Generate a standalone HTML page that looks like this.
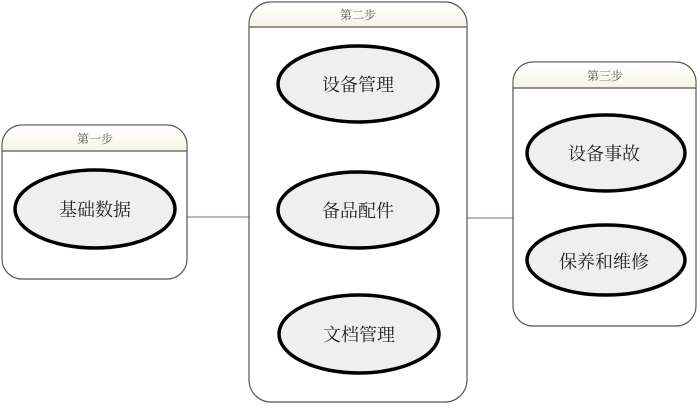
<!DOCTYPE html>
<html><head><meta charset="utf-8"><style>
body{margin:0;background:#fff;}
svg text{font-family:"Liberation Serif","Noto Serif CJK SC",serif;}
</style></head><body>
<svg width="700" height="405" viewBox="0 0 700 405" xmlns="http://www.w3.org/2000/svg">
<defs>
<linearGradient id="h" x1="0" y1="0" x2="0" y2="1"><stop offset="0" stop-color="#fff"/><stop offset="1" stop-color="#f6f4e6"/></linearGradient>
</defs>
<g fill="none" stroke="#8a8aa0" stroke-width="1.2">
<line x1="187" y1="217" x2="249" y2="217"/>
<line x1="467" y1="218" x2="513" y2="218"/>
</g>
<g stroke="#555" stroke-width="1.2">
<rect x="2" y="125" width="185" height="154" rx="20" fill="#fff"/>
<path d="M2.6 151 V145 A20 20 0 0 1 22 125.6 H167 A20 20 0 0 1 186.4 145 V151 Z" fill="url(#h)" stroke="none"/>
<line x1="2" y1="151" x2="187" y2="151"/>
<rect x="249" y="2" width="218" height="400" rx="22" fill="#fff"/>
<path d="M249.6 27 V24 A22 22 0 0 1 271 2.6 H445 A22 22 0 0 1 466.4 24 V27 Z" fill="url(#h)" stroke="none"/>
<line x1="249" y1="27" x2="467" y2="27"/>
<rect x="513" y="62" width="183" height="264" rx="20" fill="#fff"/>
<path d="M513.6 88 V82 A20 20 0 0 1 533 62.6 H676 A20 20 0 0 1 695.4 82 V88 Z" fill="url(#h)" stroke="none"/>
<line x1="513" y1="88" x2="696" y2="88"/>
</g>
<g fill="#efefef" stroke="#000" stroke-width="3.5">
<ellipse cx="95" cy="209" rx="80" ry="39"/>
<ellipse cx="358" cy="84" rx="80" ry="38"/>
<ellipse cx="358" cy="210" rx="80" ry="38"/>
<ellipse cx="359" cy="334" rx="80" ry="39"/>
<ellipse cx="606" cy="153" rx="79" ry="38"/>
<ellipse cx="606" cy="260" rx="79" ry="35"/>
</g>
<g font-size="12" fill="#555" text-anchor="middle">
<text x="95" y="143">第一步</text>
<text x="358" y="19">第二步</text>
<text x="605" y="80">第三步</text>
</g>
<g font-size="18" fill="#222" text-anchor="middle" style="font-family:'Noto Serif CJK SC',serif">
<text x="95" y="216">基础数据</text>
<text x="358" y="91">设备管理</text>
<text x="358" y="217">备品配件</text>
<text x="359" y="341">文档管理</text>
<text x="604" y="160">设备事故</text>
<text x="604" y="268">保养和维修</text>
</g>
</svg>
</body></html>
